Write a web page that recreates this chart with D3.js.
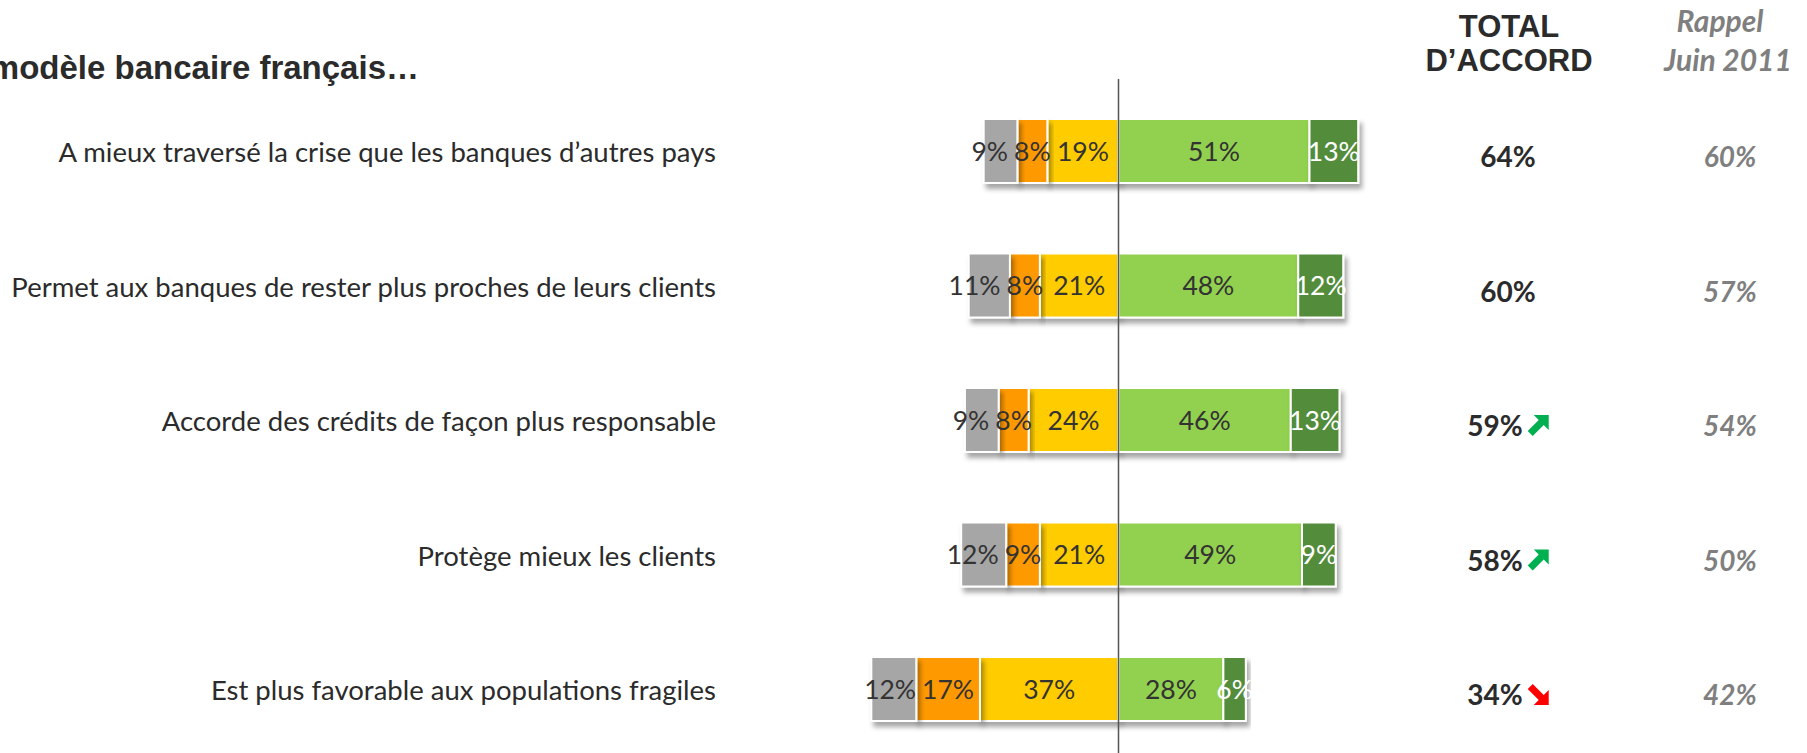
<!DOCTYPE html>
<html>
<head>
<meta charset="utf-8">
<script src="https://cdn.jsdelivr.net/npm/d3@7/dist/d3.min.js"></script>
<style>
  html, body { margin: 0; padding: 0; background: #ffffff; overflow: hidden; }
  svg { display: block; }
</style>
</head>
<body>
<svg id="chart" width="1807" height="753"></svg>
<script>
// ---------- data ----------
const categories = [
  "A mieux traversé la crise que les banques d’autres pays",
  "Permet aux banques de rester plus proches de leurs clients",
  "Accorde des crédits de façon plus responsable",
  "Protège mieux les clients",
  "Est plus favorable aux populations fragiles"
];
const nspValues        = [9, 11, 9, 12, 12];   // gray (outermost left)
const pasDuToutValues  = [8, 8, 8, 9, 17];     // orange
const plutotPasValues  = [19, 21, 24, 21, 37]; // yellow (next to centre)
const plutotValues     = [51, 48, 46, 49, 28]; // light green
const toutAFaitValues  = [13, 12, 13, 9, 6];   // dark green
const totalAccord      = [64, 60, 59, 58, 34];
const rappel2011       = [60, 57, 54, 50, 42];
const trends           = ["", "", "up", "up", "down"];
const titleText = "modèle bancaire français…";
const headerTotal = ["TOTAL", "D’ACCORD"];
const headerRappel = ["Rappel", "Juin 2011"];

// ---------- layout ----------
const svg = d3.select("#chart");
const centerX = 1118.5;
const pxPerPct = 3.745;
const x = d3.scaleLinear().domain([-70, 70]).range([centerX - 70 * pxPerPct, centerX + 70 * pxPerPct]);
const y = d3.scalePoint().domain(categories).range([151, 689]);
const barH = 64;

const colors = {
  nsp: "#a6a6a6", pasDuTout: "#ff9900", plutotPas: "#ffcc00",
  plutot: "#92d050", toutAFait: "#538d3b"
};
const textDark = "#2b2b2b";
const sans = "Lato, 'Open Sans', sans-serif";
const arial = "'Liberation Sans', Arial, sans-serif";

// drop shadow
const defs = svg.append("defs");
const f = defs.append("filter").attr("id", "shadow").attr("x", "-10%").attr("y", "-20%").attr("width", "130%").attr("height", "160%");
f.append("feDropShadow").attr("dx", 3).attr("dy", 5).attr("stdDeviation", 2.5)
  .attr("flood-color", "#000").attr("flood-opacity", 0.35);

// build segments
const segs = [];
categories.forEach((c, i) => {
  const left = [
    { key: "plutotPas", v: plutotPasValues[i] },
    { key: "pasDuTout", v: pasDuToutValues[i] },
    { key: "nsp", v: nspValues[i] }
  ];
  let acc = 0;
  left.forEach((s, k) => { segs.push({ cat: c, row: i, side: "L", order: k, key: s.key, v: s.v, x0: -(acc + s.v), x1: -acc }); acc += s.v; });
  const right = [
    { key: "plutot", v: plutotValues[i] },
    { key: "toutAFait", v: toutAFaitValues[i] }
  ];
  acc = 0;
  right.forEach((s, k) => { segs.push({ cat: c, row: i, side: "R", order: k, key: s.key, v: s.v, x0: acc, x1: acc + s.v }); acc += s.v; });
});

const barsG = svg.append("g");
barsG.selectAll("rect").data(segs).enter().append("rect")
  .attr("x", d => x(d.x0))
  .attr("y", d => y(d.cat) - barH / 2)
  .attr("width", d => x(d.x1) - x(d.x0))
  .attr("height", barH)
  .attr("fill", d => colors[d.key])
  .attr("stroke", "#ffffff")
  .attr("stroke-width", 2)
  .attr("filter", "url(#shadow)");

const labels = barsG.selectAll("text").data(segs).enter().append("text")
  .attr("x", d => (x(d.x0) + x(d.x1)) / 2)
  .attr("y", d => y(d.cat) + 9.5)
  .attr("text-anchor", "middle")
  .attr("font-family", sans)
  .attr("font-size", 26.5)
  .attr("fill", d => d.key === "toutAFait" ? "#ffffff" : "#333333")
  .text(d => d.v + "%");

// resolve label overlaps on the left side: push outer labels outward
labels.each(function(d) { d.w = this.getComputedTextLength(); d.cx = (x(d.x0) + x(d.x1)) / 2; });
categories.forEach((c, i) => {
  const left = segs.filter(s => s.row === i && s.side === "L").sort((a, b) => a.order - b.order);
  for (let k = 1; k < left.length; k++) {
    const inner = left[k - 1], outer = left[k];
    const innerLeft = inner.cx - inner.w / 2;
    const outerRight = outer.cx + outer.w / 2;
    if (outerRight > innerLeft - 6) outer.cx = innerLeft - 6 - outer.w / 2;
  }
});
labels.attr("x", d => d.cx);

// centre line
svg.append("line")
  .attr("x1", x(0)).attr("x2", x(0))
  .attr("y1", 79).attr("y2", 753)
  .attr("stroke", "#555555").attr("stroke-width", 1.5);

// category labels
svg.append("g").selectAll("text").data(categories).enter().append("text")
  .attr("x", 716)
  .attr("y", d => y(d) + 11)
  .attr("text-anchor", "end")
  .attr("font-family", sans)
  .attr("font-size", 27.5)
  .attr("fill", textDark)
  .text(d => d);

// title (clipped at left, as in the original slide)
svg.append("text")
  .attr("x", 419).attr("y", 79)
  .attr("text-anchor", "end")
  .attr("font-family", arial)
  .attr("font-weight", "bold")
  .attr("font-size", 33)
  .attr("fill", textDark)
  .text(titleText);

// headers
const totalX = 1509, rappelX = 1728;
svg.append("text")
  .attr("x", totalX).attr("text-anchor", "middle")
  .attr("font-family", arial)
  .attr("font-weight", "bold").attr("font-size", 31)
  .attr("fill", textDark)
  .selectAll("tspan").data(headerTotal).enter().append("tspan")
  .attr("x", totalX).attr("y", (d, i) => 37 + i * 34).text(d => d);

svg.append("text")
  .attr("x", rappelX).attr("text-anchor", "middle")
  .attr("font-family", sans)
  .attr("font-weight", "bold").attr("font-style", "italic").attr("font-size", 30)
  .attr("fill", "#7f7f7f")
  .selectAll("tspan").data(headerRappel).enter().append("tspan")
  .attr("x", (d, i) => rappelX - (i === 0 ? 8 : 0)).attr("y", (d, i) => 32 + i * 39).text(d => d);

// totals with trend arrows
const upArrow = "M21,0 L21,15 L16,10 L5,21 L0,16 L11,5 L6,0 Z";
const downArrow = "M21,21 L21,6 L16,11 L5,0 L0,5 L11,16 L6,21 Z";
const totalsG = svg.append("g");
categories.forEach((c, i) => {
  const g = totalsG.append("g");
  const t = g.append("text")
    .attr("y", y(c) + 16)
    .attr("font-family", sans)
    .attr("font-weight", "bold").attr("font-size", 28)
    .attr("fill", textDark)
    .text(totalAccord[i] + "%");
  const w = t.node().getComputedTextLength();
  const arrowW = trends[i] ? 26 : 0;
  const start = totalX - 1 - (w + arrowW) / 2;
  t.attr("x", start);
  if (trends[i]) {
    g.append("path")
      .attr("d", trends[i] === "up" ? upArrow : downArrow)
      .attr("transform", `translate(${start + w + 5},${y(c) - 5})`)
      .attr("fill", trends[i] === "up" ? "#00b050" : "#ff0000");
  }
});

svg.append("g").selectAll("text").data(categories).enter().append("text")
  .attr("x", rappelX + 2)
  .attr("y", d => y(d) + 16)
  .attr("text-anchor", "middle")
  .attr("font-family", sans)
  .attr("font-weight", "bold").attr("font-style", "italic").attr("font-size", 28)
  .attr("fill", "#7f7f7f")
  .text((d, i) => rappel2011[i] + "%");
</script>
</body>
</html>
